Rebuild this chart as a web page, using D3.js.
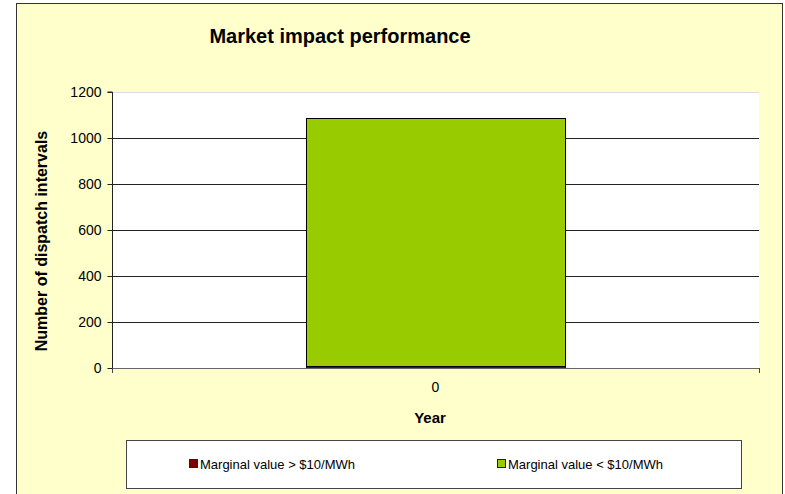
<!DOCTYPE html>
<html><head><meta charset="utf-8">
<script src="https://cdn.jsdelivr.net/npm/d3@7"></script>
<style>body{margin:0;background:#fff;}svg{display:block;font-family:Arial,"Liberation Sans",sans-serif;}</style>
</head><body>
<script>
const categories = ["0"];
const seriesNames = ["Marginal value > $10/MWh", "Marginal value < $10/MWh"];
const seriesColors = ["#800000", "#99CC00"];
const above10 = [10];
const below10 = [1078];
const yTicks = [0, 200, 400, 600, 800, 1000, 1200];

const W = 785, H = 494;
const svg = d3.select("body").append("svg").attr("width", W).attr("height", H);
svg.append("rect").attr("x", 16.5).attr("y", 3.5).attr("width", 766).attr("height", 500)
  .attr("fill", "#FFFFCC").attr("stroke", "#333").attr("stroke-width", 1);

const pl = 112, pr = 759, pt = 92, pb = 368;
const x = d3.scaleBand().domain(categories).range([pl, pr]).paddingInner(0).paddingOuter(0.75);
const y = d3.scaleLinear().domain([0, 1200]).range([pb, pt]);

svg.append("rect").attr("x", pl).attr("y", pt).attr("width", pr - pl).attr("height", pb - pt).attr("fill", "#fff");
svg.append("line").attr("x1", pl).attr("x2", pr).attr("y1", pt + 0.5).attr("y2", pt + 0.5).attr("stroke", "#ddd");

// gridlines
svg.append("g").selectAll("line").data(yTicks.filter(d => d > 0 && d < 1200)).join("line")
  .attr("x1", pl).attr("x2", pr).attr("y1", d => Math.round(y(d)) + 0.5).attr("y2", d => Math.round(y(d)) + 0.5)
  .attr("stroke", "#222").attr("stroke-width", 1);

// stacked bars
const stackData = categories.map((c, i) => ({cat: c, a: above10[i], b: below10[i]}));
const stack = d3.stack().keys(["a", "b"])(stackData);
stack.forEach((layer, li) => {
  svg.append("g").selectAll("rect").data(layer).join("rect")
    .attr("x", d => Math.round(x(d.data.cat)) + 0.5)
    .attr("y", d => Math.round(y(d[1])) + 0.5)
    .attr("width", Math.round(x.bandwidth()))
    .attr("height", d => Math.max(0, Math.round(y(d[0])) - Math.round(y(d[1]))))
    .attr("fill", seriesColors[li]).attr("stroke", "#000").attr("stroke-width", 1);
});

// y axis
const yAxis = svg.append("g").attr("transform", `translate(${pl + 0.5},0)`)
  .call(d3.axisLeft(y).tickValues(yTicks).tickSize(5).tickPadding(6).tickFormat(d3.format("d")));
yAxis.select(".domain").attr("stroke", "#222").attr("d", `M-5,${pt}H0V${pb}`);
yAxis.selectAll(".tick line").attr("stroke", "#222");
yAxis.selectAll("text").attr("font-size", 14).attr("fill", "#000").attr("font-family", "Arial, Liberation Sans, sans-serif");

// x axis
const xAxis = svg.append("g").attr("transform", `translate(0,${pb + 0.5})`)
  .call(d3.axisBottom(x).tickSize(0).tickPadding(14));
xAxis.select(".domain").attr("stroke", "#666").attr("d", `M${pl},0H${pr}`);
xAxis.selectAll("text").attr("font-size", 14).attr("fill", "#000").attr("font-family", "Arial, Liberation Sans, sans-serif");
svg.append("g").selectAll("line").data([pl, pr]).join("line")
  .attr("x1", d => d + 0.5).attr("x2", d => d + 0.5).attr("y1", pb).attr("y2", pb + 5).attr("stroke", "#444");

// titles
svg.append("text").attr("x", 340).attr("y", 43).attr("text-anchor", "middle")
  .attr("font-size", 20).attr("font-weight", "bold").text("Market impact performance");
svg.append("text").attr("x", 430).attr("y", 423).attr("text-anchor", "middle")
  .attr("font-size", 15).attr("font-weight", "bold").text("Year");
svg.append("text").attr("transform", "translate(47,241) rotate(-90)").attr("text-anchor", "middle")
  .attr("font-size", 16).attr("font-weight", "bold").text("Number of dispatch intervals");

// legend
svg.append("rect").attr("x", 126.5).attr("y", 440.5).attr("width", 615).attr("height", 48)
  .attr("fill", "#fff").attr("stroke", "#444");
const legX = [189, 497];
seriesNames.forEach((n, i) => {
  svg.append("rect").attr("x", legX[i] + 0.5).attr("y", 459.5).attr("width", 8).attr("height", 8)
    .attr("fill", seriesColors[i]).attr("stroke", "#222");
  svg.append("text").attr("x", legX[i] + 11).attr("y", 468.5).attr("font-size", 13).text(n);
});
</script>
</body></html>
